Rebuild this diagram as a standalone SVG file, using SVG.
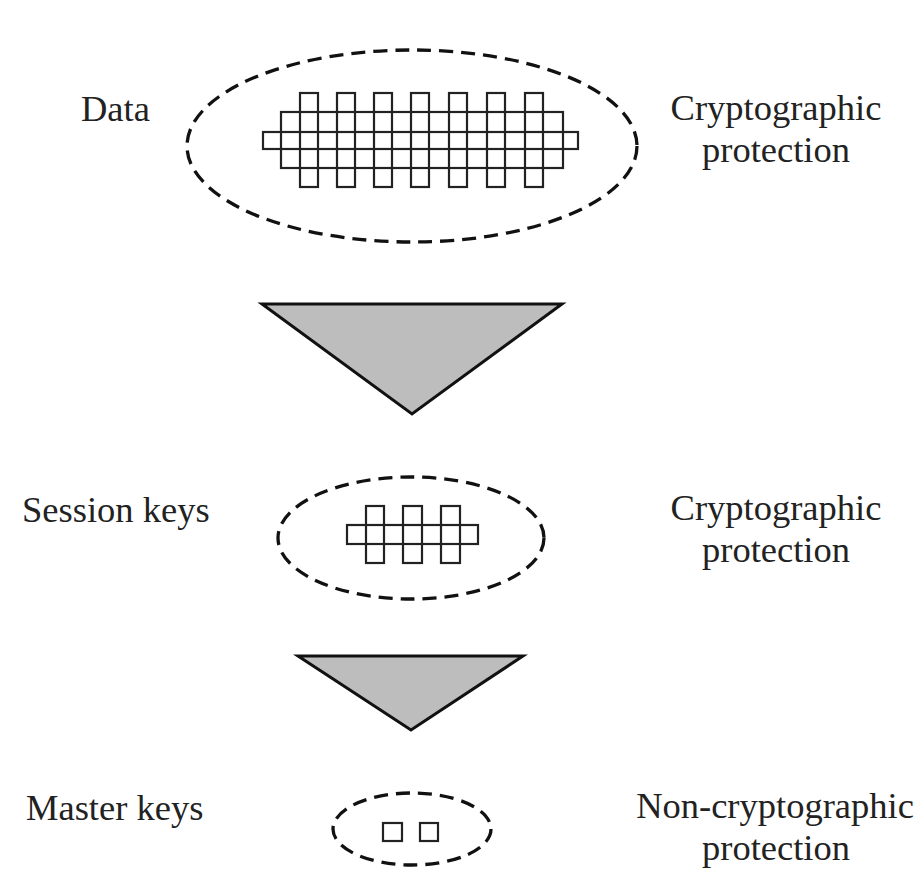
<svg xmlns="http://www.w3.org/2000/svg" width="919" height="878" viewBox="0 0 919 878">
  <style>
    .ring { fill: none; stroke: #111; stroke-width: 3.3; stroke-dasharray: 14 8; }
    .cell { fill: none; stroke: #222; stroke-width: 2.2; }
    .funnel { fill: #bdbdbd; stroke: #111; stroke-width: 3; stroke-linejoin: miter; }
    .lbl { font-family: "Liberation Serif", "Times New Roman", serif; font-size: 36.5px; fill: #222; }
    .mid { text-anchor: middle; }
  </style>
  <rect width="919" height="878" fill="#fff"/>

  <!-- Data layer -->
  <g id="data">
    <ellipse class="ring" cx="412" cy="146" rx="225" ry="96"/>
    <rect class="cell" x="263" y="132" width="315" height="17"/>
    <rect class="cell" x="281" y="112" width="282" height="56"/>
    <rect class="cell" x="300" y="93" width="18" height="94"/>
    <rect class="cell" x="337" y="93" width="18" height="94"/>
    <rect class="cell" x="374" y="93" width="18" height="94"/>
    <rect class="cell" x="411" y="93" width="18" height="94"/>
    <rect class="cell" x="449" y="93" width="18" height="94"/>
    <rect class="cell" x="487" y="93" width="18" height="94"/>
    <rect class="cell" x="525" y="93" width="18" height="94"/>
    <text class="lbl" x="81" y="121">Data</text>
    <text class="lbl mid" x="776" y="120">Cryptographic</text>
    <text class="lbl mid" x="776" y="162">protection</text>
  </g>

  <!-- Session key layer -->
  <g id="session">
    <ellipse class="ring" cx="411" cy="538" rx="133" ry="61"/>
    <rect class="cell" x="347" y="525" width="131" height="19"/>
    <rect class="cell" x="366" y="506" width="18" height="57"/>
    <rect class="cell" x="403" y="506" width="19" height="57"/>
    <rect class="cell" x="441" y="506" width="19" height="57"/>
    <text class="lbl" x="22" y="522">Session keys</text>
    <text class="lbl mid" x="776" y="520">Cryptographic</text>
    <text class="lbl mid" x="776" y="562">protection</text>
  </g>

  <!-- Master key layer -->
  <g id="master">
    <ellipse class="ring" cx="412" cy="829" rx="79" ry="36"/>
    <rect class="cell" x="383" y="823" width="19" height="18"/>
    <rect class="cell" x="420" y="823" width="18" height="18"/>
    <text class="lbl" x="26" y="820">Master keys</text>
    <text class="lbl mid" x="775" y="818">Non-cryptographic</text>
    <text class="lbl mid" x="776" y="860">protection</text>
  </g>

  <!-- Funnels between layers -->
  <g id="connectors">
    <polygon class="funnel" points="262,304 562,304 412,414"/>
    <polygon class="funnel" points="298,656 523,656 411,730"/>
  </g>
</svg>
